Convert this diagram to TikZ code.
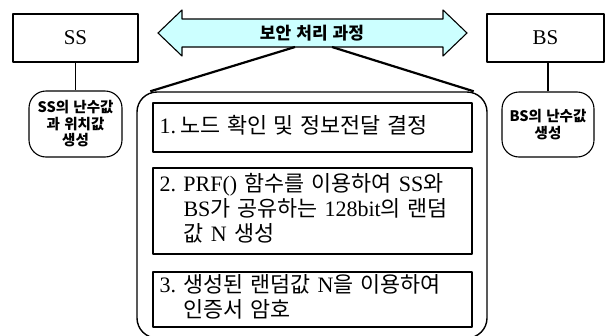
\documentclass[tikz,border=0pt]{standalone}
\usepackage{fontspec}
\setmainfont{Liberation Serif}
\newfontfamily\kr{Noto Sans CJK KR}
\newcommand\K[1]{{\kr\fontsize{21.8}{23}\selectfont\spaceskip=0.3em\relax #1}}
\newcommand\labfont{\kr\bfseries\fontsize{14.5}{16.5}\selectfont\spaceskip=0.3em\relax}
\newcommand\stepfont{\fontsize{22}{23}\selectfont\spaceskip=0.35em\relax}
\newcommand\arrfont{\kr\bfseries\fontsize{17}{18}\selectfont\spaceskip=0.3em\relax}
\definecolor{arrowfill}{HTML}{CCFFFF}
\begin{document}
\begin{tikzpicture}[x=1pt,y=-1pt,line join=round,
  topbox/.style={draw,line width=1.1pt,inner sep=0pt,font=\fontsize{21}{24}\selectfont},
  roundbox/.style={draw,line width=1.1pt,rounded corners=17pt,inner sep=0pt,align=center,
    font=\labfont},
  stepbox/.style={draw,line width=1.1pt,text width=306pt,inner xsep=6.5pt,inner ysep=0pt,
    align=left,font=\stepfont},
  bigbox/.style={draw,line width=1.4pt,rounded corners=20pt,inner sep=0pt},
  link/.style={line width=1.1pt},
  callout/.style={line width=2.2pt},
  dblarrow/.style={draw,line width=1.1pt,fill=arrowfill}]
\useasboundingbox (0,0) rectangle (616,335);
% top boxes
\node[topbox,minimum width=125pt,minimum height=48pt] (ss) at (75.5,38) {SS};
\node[topbox,minimum width=117pt,minimum height=48pt] (bs) at (545.5,38) {BS};
\node[roundbox,minimum width=93pt,minimum height=66pt] (ssr) at (75.5,124) {SS의 난수값\\과 위치값\\생성};
\node[roundbox,minimum width=92pt,minimum height=65pt] (bsr) at (548,124.5) {BS의 난수값\\생성};
\draw[link] (ss) -- (ssr);
\draw[link] (bsr.north) -- (bsr.north |- bs.south);
% double arrow
\draw[dblarrow] (158,33) -- (182,10) -- (182,19) -- (443,19) -- (443,10) -- (467,33)
  -- (443,56) -- (443,47) -- (182,47) -- (182,56) -- cycle;
\node[font=\arrfont] (lbl) at (312,33) {보안 처리 과정};
\coordinate (cl) at (295,47);
\coordinate (cr) at (332,47);
% big rounded box
\node[bigbox,minimum width=350pt,minimum height=246pt] (big) at (312,215) {};
\draw[callout] (cl) -- ([xshift=14pt]big.north west);
\draw[callout] (cr) -- ([xshift=-14pt]big.north east);
% steps
\node[stepbox,minimum height=49pt] (b1) at (312.5,127.5)
  {\begin{tabular}{@{}p{21pt}@{}l@{}}1. & \K{노드 확인 및 정보전달 결정}\end{tabular}};
\node[stepbox,minimum height=86pt] (b2) at (312.5,211)
  {\begin{tabular}{@{}p{24pt}@{}l@{}}
   2. & PRF() \K{함수를 이용하여} SS\K{와}\\
      & BS\K{가 공유하는} 128bit\K{의 랜덤}\\
      & \K{값} N \K{생성}\end{tabular}};
\node[stepbox,minimum height=55pt] (b3) at (312.5,299.5)
  {\begin{tabular}{@{}p{24pt}@{}l@{}}
   3. & \K{생성된 랜덤값} N\K{을 이용하여}\\
      & \K{인증서 암호}\end{tabular}};
\end{tikzpicture}
\end{document}
